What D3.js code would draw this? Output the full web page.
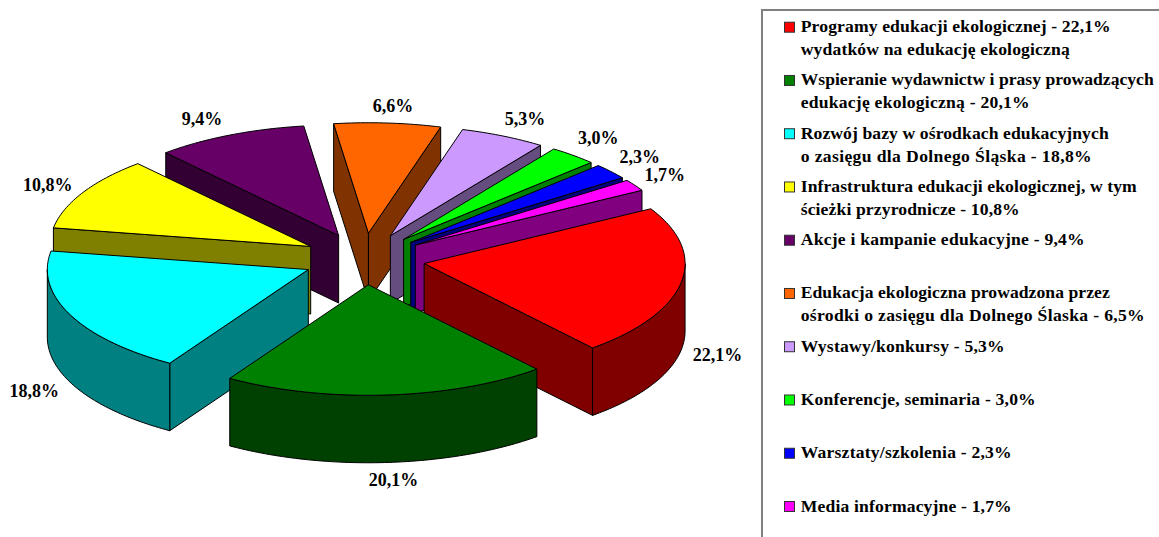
<!DOCTYPE html>
<html>
<head>
<meta charset="utf-8">
<script src="https://cdn.jsdelivr.net/npm/d3@7"></script>
<style>
    html, body { margin: 0; padding: 0; background: #fff; overflow: hidden; }
    svg { display: block; }
    text { font-family: "Liberation Serif", serif; font-weight: bold; fill: #000; }
</style>
</head>
<body>
<svg id="chart"></svg>
<script>
// chart data
const values = [22.1, 20.1, 18.8, 10.8, 9.4, 6.6, 5.3, 3.0, 2.3, 1.7];
const colors = ["#ff0000", "#008000", "#00ffff", "#ffff00", "#660066", "#ff6600", "#cc99ff", "#00ff00", "#0000ff", "#ff00ff"];
const legend_lines = [
    ["Programy edukacji ekologicznej - 22,1%", "wydatków na edukację ekologiczną"],
    ["Wspieranie wydawnictw i prasy prowadzących", "edukację ekologiczną - 20,1%"],
    ["Rozwój bazy w ośrodkach edukacyjnych", "o zasięgu dla Dolnego Śląska - 18,8%"],
    ["Infrastruktura edukacji ekologicznej, w tym", "ścieżki przyrodnicze - 10,8%"],
    ["Akcje i kampanie edukacyjne - 9,4%"],
    ["Edukacja ekologiczna prowadzona przez", "ośrodki o zasięgu dla Dolnego Ślaska - 6,5%"],
    ["Wystawy/konkursy - 5,3%"],
    ["Konferencje, seminaria - 3,0%"],
    ["Warsztaty/szkolenia - 2,3%"],
    ["Media informacyjne - 1,7%"]
];

// layout
const width = 1159, height = 537;
const cx = 364, cy = 259;
const rx = 261, ry = 110.5;
const explode = 61;
const depth = 67.5;
const label_font = 18, legend_font = 17.6;
// small shift of every value label from its spot on the pie rim
const label_nudge = [[36.5, 10.5], [6.5, 23.5], [-36, 14.5], [-35, -2], [-28, -10], [5.5, -11], [22, -11], [25, -11.5], [29, -8], [30, -4.5]];
// measured width of the legend lines, the original text is set a bit loose
const legend_widths = [[310, 269], [353, 229], [308, 291], [336, 219], [284], [309, 344], [204], [235], [211], [211]];

const svg = d3.select("#chart").attr("width", width).attr("height", height);

const rad = d3.scaleLinear().domain([0, 360]).range([0, 2 * Math.PI]);
const pie = d3.pie().sort(null).startAngle(rad(-29.7)).endAngle(rad(330.3));
const closed_line = d3.line().curve(d3.curveLinearClosed);
const pct = v => d3.format(".1f")(v).replace(".", ",") + "%";

function half_tone(c) {
    let r = d3.rgb(c);
    return d3.rgb(Math.round(r.r / 2), Math.round(r.g / 2), Math.round(r.b / 2)).formatHex();
}

// arc of the rim between two angles, y0 is the level (0 top, depth bottom)
function rim(s, a0, a1, y0) {
    let n = Math.max(2, Math.ceil((a1 - a0) / rad(1)));
    return d3.range(n + 1).map(i => {
        let a = a0 + (a1 - a0) * i / n;
        return [s.x + rx * Math.cos(a), s.y + ry * Math.sin(a) + y0];
    });
}

function radial_wall(s, a) {
    return [
        [s.x, s.y],
        [s.x + rx * Math.cos(a), s.y + ry * Math.sin(a)],
        [s.x + rx * Math.cos(a), s.y + ry * Math.sin(a) + depth],
        [s.x, s.y + depth]
    ];
}

let slices = pie(values).map((d, i) => {
    let mid = (d.startAngle + d.endAngle) / 2;
    return {
        index: i,
        value: d.value,
        start: d.startAngle,
        end: d.endAngle,
        mid: mid,
        color: colors[i],
        wall: half_tone(colors[i]),
        x: cx + explode * Math.cos(mid),
        y: cy + explode * (ry / rx) * Math.sin(mid)
    };
});

// back slices first
let order = slices.slice().sort((a, b) => Math.sin(a.mid) - Math.sin(b.mid));

let slice_g = svg.append("g")
    .attr("stroke", "#000")
    .attr("stroke-width", 1)
    .attr("stroke-linejoin", "round")
    .selectAll("g")
    .data(order)
    .enter()
    .append("g");

slice_g.each(function(s) {
    let g = d3.select(this);
    if (Math.sin(s.start - Math.PI / 2) > 0) {
        g.append("path").attr("d", closed_line(radial_wall(s, s.start))).attr("fill", s.wall);
    }
    if (Math.sin(s.end + Math.PI / 2) > 0) {
        g.append("path").attr("d", closed_line(radial_wall(s, s.end))).attr("fill", s.wall);
    }
    let a0 = Math.max(s.start, 0), a1 = Math.min(s.end, Math.PI);
    if (a1 > a0) {
        let outer = rim(s, a0, a1, 0).concat(rim(s, a0, a1, depth).reverse());
        g.append("path").attr("d", closed_line(outer)).attr("fill", s.wall);
    }
    let top = [[s.x, s.y]].concat(rim(s, s.start, s.end, 0));
    g.append("path").attr("d", closed_line(top)).attr("fill", s.color);
});

// value labels
svg.append("g")
    .selectAll("text")
    .data(slices)
    .enter()
    .append("text")
    .attr("font-size", label_font)
    .attr("text-anchor", "middle")
    .attr("x", d => cx + (explode + rx) * Math.cos(d.mid) + label_nudge[d.index][0])
    .attr("y", d => cy + (explode + rx) * (ry / rx) * Math.sin(d.mid) + (Math.sin(d.mid) > 0 ? depth : 0) + label_nudge[d.index][1])
    .text(d => pct(d.value));

// legend box runs off the right and bottom of the picture
svg.append("rect")
    .attr("x", 762)
    .attr("y", 10)
    .attr("width", 420)
    .attr("height", 560)
    .attr("fill", "#fff")
    .attr("stroke", "#808080")
    .attr("stroke-width", 2);

const legend_y = d3.scaleLinear().domain([0, legend_lines.length - 1]).range([26.7, 506]);

let legend = svg.append("g")
    .selectAll("g")
    .data(legend_lines.map((lines, i) => lines.map((t, j) => ({ text: t, width: legend_widths[i][j] }))))
    .enter()
    .append("g")
    .attr("transform", (d, i) => "translate(784," + legend_y(i) + ")");

legend.append("rect")
    .attr("x", 0.5)
    .attr("y", -4.5)
    .attr("width", 10)
    .attr("height", 10)
    .attr("fill", (d, i) => colors[i])
    .attr("stroke", "#333")
    .attr("stroke-width", 1);

legend.selectAll("text")
    .data(d => d)
    .enter()
    .append("text")
    .attr("font-size", legend_font)
    .attr("x", 16.7)
    .attr("y", (d, i) => 5.5 + i * 23)
    .attr("textLength", d => d.width)
    .attr("lengthAdjust", "spacing")
    .text(d => d.text);
</script>
</body>
</html>
